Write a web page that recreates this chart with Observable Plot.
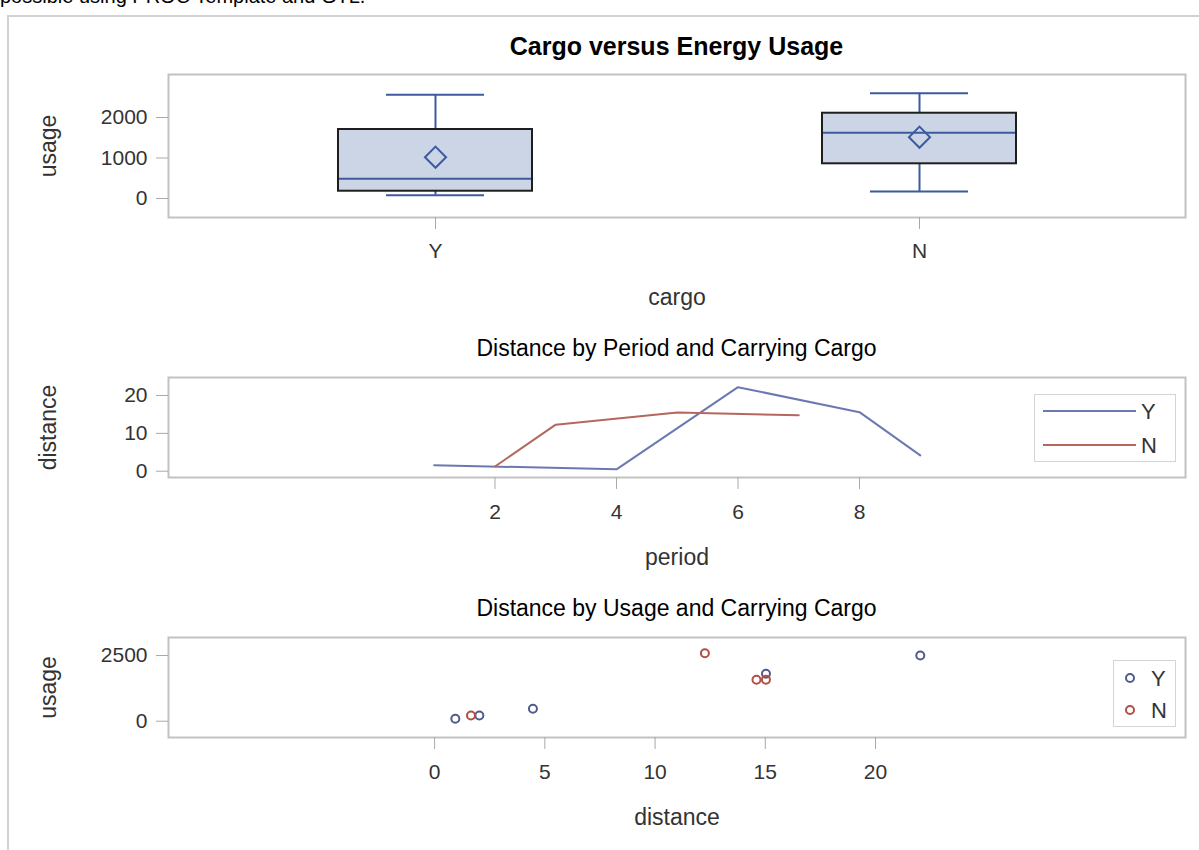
<!DOCTYPE html>
<html>
<head>
<meta charset="utf-8">
<script src="https://cdn.jsdelivr.net/npm/d3@7"></script>
<script src="https://cdn.jsdelivr.net/npm/@observablehq/plot@0.6"></script>
<style>
  html, body { margin: 0; padding: 0; background: #fff; }
  body { font-family: "Liberation Sans", Arial, sans-serif; }
  #page { position: relative; width: 1199px; height: 850px; overflow: hidden; }
  .intro { position: absolute; left: 0; top: -14px; font-size: 20px; line-height: 20px; color: #000; white-space: nowrap; }
  .outline { position: absolute; left: 7px; top: 15px; width: 1200px; height: 900px;
             border-left: 2px solid #d2d2d2; border-top: 2px solid #d2d2d2; }
  .heading { position: absolute; left: 168px; width: 1017px; text-align: center; color: #000; white-space: nowrap; }
  .panel { position: absolute; left: 0; }
  .panel svg { overflow: visible; }
</style>
</head>
<body>
<div id="page">
  <div class="intro">possible using PROC Template and GTL.</div>
  <div class="outline"></div>
</div>
<script>
// Cargo groups
const cargoLevels = ["Y", "N"];

// Energy usage summary for each cargo group (box plot)
const usageMin    = [82, 173];
const usageQ1     = [180, 857];
const usageMedian = [486, 1622];
const usageQ3     = [1704, 2106];
const usageMax    = [2560, 2600];
const usageMean   = [1020, 1514];

// Distance by period, one series per cargo group
const periodCargoY   = [1, 4, 6, 8, 9];
const distanceCargoY = [1.6, 0.5, 22.2, 15.6, 4.2];
const periodCargoN   = [2, 3, 5, 7];
const distanceCargoN = [1.25, 12.3, 15.5, 14.8];

// Distance against usage for each trip
const tripDistanceY = [0.94, 2.03, 4.46, 15.03, 22.03];
const tripUsageY    = [91, 217, 472, 1804, 2500];
const tripDistanceN = [1.65, 12.26, 14.6, 15.03];
const tripUsageN    = [217, 2588, 1575, 1575];

// Axis ticks
const usageTicks    = [0, 1000, 2000];
const periodTicks   = [2, 4, 6, 8];
const distanceTicks = [0, 10, 20];
const distXTicks    = [0, 5, 10, 15, 20];
const usageTicks2   = [0, 2500];

// Headings
const mainTitle  = "Cargo versus Energy Usage";
const lineTitle  = "Distance by Period and Carrying Cargo";
const pointTitle = "Distance by Usage and Carrying Cargo";

// Colours
const boxFill   = "#cbd5e6";
const boxEdge   = "#1e1e1e";
const boxAccent = "#3d5a9e";
const lineColors  = ["#6c79b0", "#b5675d"];
const pointColors = ["#4f5b8c", "#b24e44"];
const frameColor = "#c2c2c2";
const tickColor  = "#a9a9a9";
const textColor  = "#333";

const FONT = '"Liberation Sans", Arial, sans-serif';
const W = 1199;
const plain = d3.format("d");
const page = document.getElementById("page");

function addHeading(text, top, size, weight) {
  const d = document.createElement("div");
  d.className = "heading";
  d.textContent = text;
  d.style.top = top + "px";
  d.style.fontSize = size + "px";
  d.style.lineHeight = size + "px";
  d.style.fontWeight = weight;
  page.appendChild(d);
}

function addPanel(svg, top) {
  const wrap = document.createElement("div");
  wrap.className = "panel";
  wrap.style.top = top + "px";
  wrap.appendChild(svg);
  page.appendChild(wrap);
}

const common = {
  width: W,
  marginLeft: 168,
  marginRight: 14,
  style: { fontFamily: FONT, color: textColor, background: "none", overflow: "visible" }
};

function yAxisLabel(text) {
  return Plot.text([text], { frameAnchor: "left", dx: -129, rotate: -90, lineAnchor: "top",
                             textAnchor: "middle", fontSize: 23, fill: textColor });
}
function xAxisLabel(text) {
  return Plot.text([text], { frameAnchor: "bottom", dy: 71, lineAnchor: "top",
                             fontSize: 23, fill: textColor });
}
function leftAxis(ticks) {
  return Plot.axisY({ ticks, tickFormat: plain, tickSize: 12, tickPadding: 9,
                      stroke: tickColor, fill: textColor, fontSize: 21, label: null });
}
function bottomAxis(ticks, padding) {
  return Plot.axisX({ ...(ticks ? { ticks, tickFormat: plain } : {}), tickSize: 12, tickPadding: padding,
                      stroke: tickColor, fill: textColor, fontSize: 21, label: null });
}

// ---------- Box plot: usage by cargo ----------
const boxRows = cargoLevels.map((c, i) => ({
  cargo: c, min: usageMin[i], q1: usageQ1[i], median: usageMedian[i],
  q3: usageQ3[i], max: usageMax[i], mean: usageMean[i]
}));

addHeading(mainTitle, 34, 25, "bold");

const boxPlot = Plot.plot({
  ...common,
  height: 250,
  marginTop: 14,
  marginBottom: 93,
  x: { type: "band", domain: cargoLevels, paddingInner: 0.6, paddingOuter: 0.35 },
  y: { domain: [-469, 3062] },
  marks: [
    Plot.frame({ stroke: frameColor, strokeWidth: 2 }),
    Plot.ruleX(boxRows, { x: "cargo", y1: "q3", y2: "max", stroke: boxAccent, strokeWidth: 2 }),
    Plot.ruleX(boxRows, { x: "cargo", y1: "min", y2: "q1", stroke: boxAccent, strokeWidth: 2 }),
    Plot.tickY(boxRows, { x: "cargo", y: "max", insetLeft: 48, insetRight: 48, stroke: boxAccent, strokeWidth: 2 }),
    Plot.tickY(boxRows, { x: "cargo", y: "min", insetLeft: 48, insetRight: 48, stroke: boxAccent, strokeWidth: 2 }),
    Plot.barY(boxRows, { x: "cargo", y1: "q1", y2: "q3", fill: boxFill, stroke: boxEdge, strokeWidth: 2 }),
    Plot.tickY(boxRows, { x: "cargo", y: "median", insetLeft: 1, insetRight: 1, stroke: boxAccent, strokeWidth: 2 }),
    Plot.dot(boxRows, { x: "cargo", y: "mean", symbol: "diamond2", r: 9.5, stroke: boxAccent, strokeWidth: 2, fill: "none" }),
    leftAxis(usageTicks),
    bottomAxis(null, 14),
    yAxisLabel("usage"),
    xAxisLabel("cargo")
  ]
});
addPanel(boxPlot, 60);

// ---------- Line plot: distance by period ----------
const lineRows = [
  ...periodCargoY.map((p, i) => ({ period: p, distance: distanceCargoY[i], cargo: "Y" })),
  ...periodCargoN.map((p, i) => ({ period: p, distance: distanceCargoN[i], cargo: "N" }))
];

addHeading(lineTitle, 337, 23, "normal");

const linePlot = Plot.plot({
  ...common,
  height: 215,
  marginTop: 17,
  marginBottom: 98,
  x: { domain: [-3.374, 13.366] },
  y: { domain: [-1.66, 24.76] },
  color: { domain: cargoLevels, range: lineColors },
  marks: [
    Plot.frame({ stroke: frameColor, strokeWidth: 2 }),
    Plot.line(lineRows, { x: "period", y: "distance", z: "cargo", stroke: "cargo", strokeWidth: 2 }),
    leftAxis(distanceTicks),
    bottomAxis(periodTicks, 15),
    yAxisLabel("distance"),
    xAxisLabel("period")
  ]
});
addPanel(linePlot, 360);

// ---------- Scatter plot: usage by distance ----------
const pointRows = [
  ...tripDistanceY.map((d, i) => ({ distance: d, usage: tripUsageY[i], cargo: "Y" })),
  ...tripDistanceN.map((d, i) => ({ distance: d, usage: tripUsageN[i], cargo: "N" }))
];

addHeading(pointTitle, 597, 23, "normal");

const pointPlot = Plot.plot({
  ...common,
  height: 217,
  marginTop: 17,
  marginBottom: 100,
  x: { domain: [-12.07, 34.06] },
  y: { domain: [-620, 3185] },
  color: { domain: cargoLevels, range: pointColors },
  marks: [
    Plot.frame({ stroke: frameColor, strokeWidth: 2 }),
    Plot.dot(pointRows, { x: "distance", y: "usage", stroke: "cargo", r: 4, strokeWidth: 2, fill: "none" }),
    leftAxis(usageTicks2),
    bottomAxis(distXTicks, 15),
    yAxisLabel("usage"),
    xAxisLabel("distance")
  ]
});
addPanel(pointPlot, 620);

// ---------- Legends ----------
function addLegend({ left, top, width, height, rows, kind, colors }) {
  const svg = d3.select(page).append("svg")
    .attr("width", width).attr("height", height)
    .style("position", "absolute").style("left", left + "px").style("top", top + "px")
    .style("overflow", "visible");
  svg.append("rect").attr("x", 0.5).attr("y", 0.5)
    .attr("width", width - 1).attr("height", height - 1)
    .attr("fill", "#fff").attr("stroke", "#d4d4d4");
  rows.forEach((r, i) => {
    const g = svg.append("g").attr("transform", `translate(0,${r.y})`);
    if (kind === "line") {
      g.append("line").attr("x1", r.x1).attr("x2", r.x2).attr("y1", 0).attr("y2", 0)
        .attr("stroke", colors[i]).attr("stroke-width", 2);
    } else {
      g.append("circle").attr("cx", r.x1).attr("cy", 0).attr("r", 4)
        .attr("fill", "none").attr("stroke", colors[i]).attr("stroke-width", 2);
    }
    g.append("text").attr("x", r.tx).attr("y", 0).attr("dy", "0.35em")
      .attr("font-family", FONT).attr("font-size", 22).attr("fill", textColor)
      .text(cargoLevels[i]);
  });
}

addLegend({
  left: 1034, top: 394, width: 142, height: 68, kind: "line", colors: lineColors,
  rows: [{ y: 17, x1: 9, x2: 102, tx: 107 }, { y: 51, x1: 9, x2: 102, tx: 107 }]
});
addLegend({
  left: 1113, top: 660, width: 63, height: 67, kind: "dot", colors: pointColors,
  rows: [{ y: 18, x1: 17, tx: 38 }, { y: 50, x1: 17, tx: 38 }]
});
</script>
</body>
</html>
